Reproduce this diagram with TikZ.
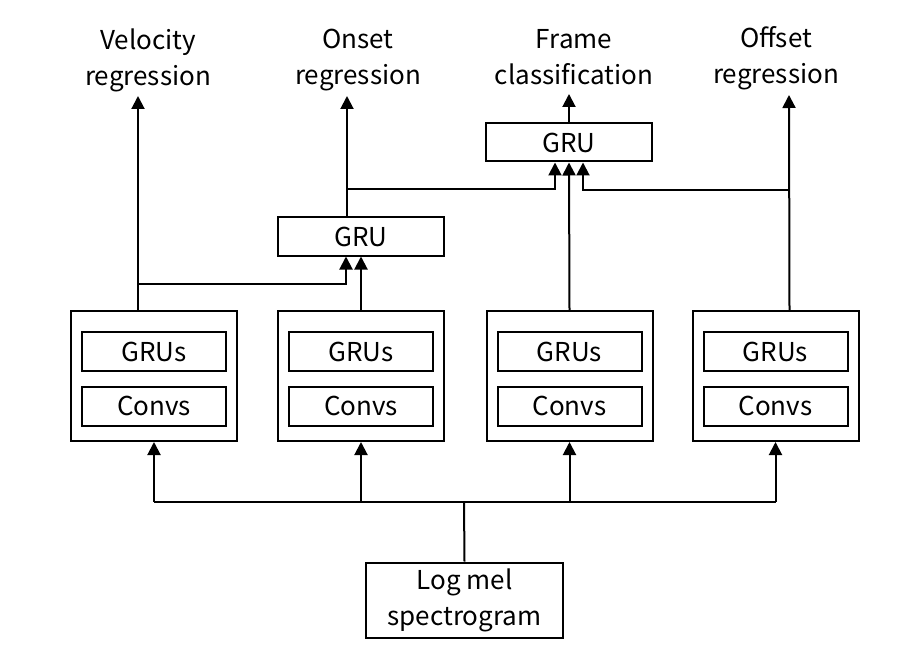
\documentclass[tikz,border=0pt]{standalone}
\usepackage{fontspec}
\setmainfont{Noto Sans CJK SC}
\usetikzlibrary{arrows.meta,positioning}

\begin{document}
\begin{tikzpicture}[x=1pt,y=-1pt,
  wire/.style={line width=2pt},
  arr/.style={wire,-{Triangle[width=13pt,length=13pt]}},
  blk/.style={draw,line width=2pt,minimum width=166pt,minimum height=130pt,inner sep=0pt},
  sub/.style={draw,line width=2pt,minimum width=144pt,minimum height=39pt,inner sep=0pt,font=\fontsize{26}{36}\selectfont},
  grubox/.style={draw,line width=2pt,minimum width=166pt,minimum height=38pt,inner sep=0pt,font=\fontsize{26}{36}\selectfont},
  outlbl/.style={align=center,inner sep=0pt,font=\fontsize{26}{36}\selectfont}]
  \useasboundingbox (0,0) rectangle (902,655);
  \foreach \n/\x in {1/154,2/361,3/569.5,4/775.5} {
    \node[blk] (net\n) at (\x,376) {};
    \node[sub] (grus\n) at (\x,351.5) {GRUs};
    \node[sub] (convs\n) at (\x,406) {Convs};
  }
  \node[grubox] (ogru) at (361,236.5) {GRU};
  \node[grubox] (fgru) at (569,142.5) {GRU};
  \node[draw,line width=2pt,minimum width=197pt,minimum height=75pt,align=center,inner sep=0pt,
    font=\fontsize{26}{36}\selectfont] (logmel) at (464.5,600) {Log mel\\spectrogram};
  \node[outlbl] (vel) at (148,60.5) {Velocity\\regression};
  \node[outlbl] (ons) at (358,60) {Onset\\regression};
  \node[outlbl] (frm) at (574,57.5) {Frame\\classification};
  \node[outlbl] (off) at (776,58.5) {Offset\\regression};
  \coordinate (velin) at (138,96);
  \coordinate (onsin) at (347,96);
  \coordinate (frmin) at (569,94);
  \coordinate (offin) at (789,95);
  \coordinate (j1) at (138,284);
  \coordinate (j2) at (347,189);
  \coordinate (j3) at (789,190);
  \coordinate (bus) at (464,502);
  \draw[arr] ([xshift=-16pt]net1.north) -- (velin);
  \draw[arr] (j1) -| ([xshift=-15pt]ogru.south);
  \draw[arr] (net2.north) -- (ogru.south);
  \draw[arr] ([xshift=-14pt]ogru.north) -- (onsin);
  \draw[arr] (j2) -| ([xshift=-14pt]fgru.south);
  \draw[arr] (net3.north) -- (fgru.south);
  \draw[arr] ([xshift=14pt]net4.north) -- (offin);
  \draw[arr] (j3) -| ([xshift=14pt]fgru.south);
  \draw[arr] (fgru.north) -- (frmin);
  \draw[wire] (logmel.north) -- (bus);
  \draw[wire] (bus -| net1.south) -- (bus -| net4.south);
  \foreach \n in {1,...,4}
    \draw[arr] (bus -| net\n.south) -- (net\n.south);
\end{tikzpicture}
\end{document}
